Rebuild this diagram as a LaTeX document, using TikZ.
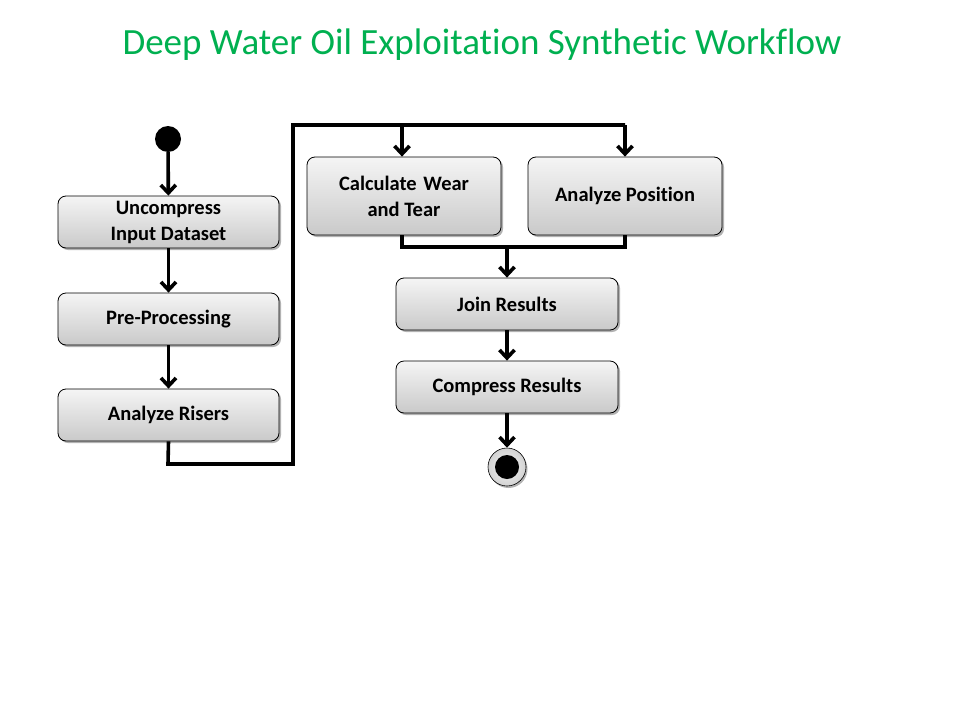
\documentclass[tikz,border=0pt]{standalone}
\usepackage{fontspec}
\setmainfont{Carlito}[Ligatures={NoCommon}]
\usetikzlibrary{arrows.meta,shadows,calc}
\definecolor{titlegreen}{RGB}{0,176,80}
\tikzset{
  actbox/.style={draw=black, line width=0.8pt, rounded corners=8pt,
    top color=gray!8, bottom color=gray!42,
    drop shadow={shadow xshift=2pt, shadow yshift=-2pt, opacity=0.3, fill=black},
    font=\fontsize{20.5}{26}\selectfont\bfseries, align=center, inner sep=0pt},
  flow/.style={line width=3.6pt, -{Straight Barb[length=8pt,width=15pt,line width=3.6pt]}},
  plain/.style={line width=3.6pt},
}
\begin{document}
\begin{tikzpicture}[x=1pt,y=-1pt]
\useasboundingbox (0,0) rectangle (960,720);
\node[text=titlegreen, font=\fontsize{37}{42}\selectfont] (title) at (482,45) {Deep Water Oil Exploitation Synthetic Workflow};
% start
\node[circle, fill=black, minimum size=26pt, inner sep=0pt] (start) at (168,139) {};
% left column
\node[actbox, minimum width=221pt, minimum height=52pt] (b1) at (168.5,222) {Uncompress\\Input Dataset};
\node[actbox, minimum width=221pt, minimum height=52pt] (b2) at (168.5,319) {Pre-Processing};
\node[actbox, minimum width=221pt, minimum height=52pt] (b3) at (168.5,415) {Analyze Risers};
% right top
\node[actbox, minimum width=194pt, minimum height=78pt] (b4) at (404,196) {Calculate\hspace{2pt} Wear\\and Tear};
\node[actbox, minimum width=194pt, minimum height=78pt] (b5) at (625,196) {Analyze Position};
\node[actbox, minimum width=222pt, minimum height=52pt] (b6) at (507,304) {Join Results};
\node[actbox, minimum width=222pt, minimum height=52pt] (b7) at (507,387) {Compress Results};
% end
\node[circle, draw=black, line width=0.6pt, inner color=gray!8, outer color=gray!35, minimum size=38pt, inner sep=0pt,
  drop shadow={shadow xshift=1.5pt, shadow yshift=-2pt, opacity=0.3, fill=black}] (endo) at (507,467) {};
\node[circle, fill=black, minimum size=24pt, inner sep=0pt] (endi) at (endo.center) {};
% coordinates
\coordinate (c1) at (168,464);
\coordinate (c2) at (293,464);
\coordinate (c3) at (293,125);
\coordinate (c4) at (625,125);
\coordinate (c5) at (402,125);
\coordinate (j1) at (402,247);
\coordinate (j2) at (625,247);
\coordinate (j3) at (507,247);
% connectors
\draw[flow] (start) -- (b1);
\draw[flow] (b1) -- (b2);
\draw[flow] (b2) -- (b3);
\draw[plain, line join=miter] (b3.south) -- (c1) -- (c2) -- (c3) -- (c4);
\draw[flow] (c4) -- (c4 |- b5.north);
\draw[flow] (c5) -- (c5 |- b4.north);
\draw[plain, line join=miter] (j1 |- b4.south) -- (j1) -- (j2) -- (j2 |- b5.south);
\draw[flow] (j3) -- (b6);
\draw[flow] (b6) -- (b7);
\draw[flow] (b7) -- (endo);
\end{tikzpicture}
\end{document}
